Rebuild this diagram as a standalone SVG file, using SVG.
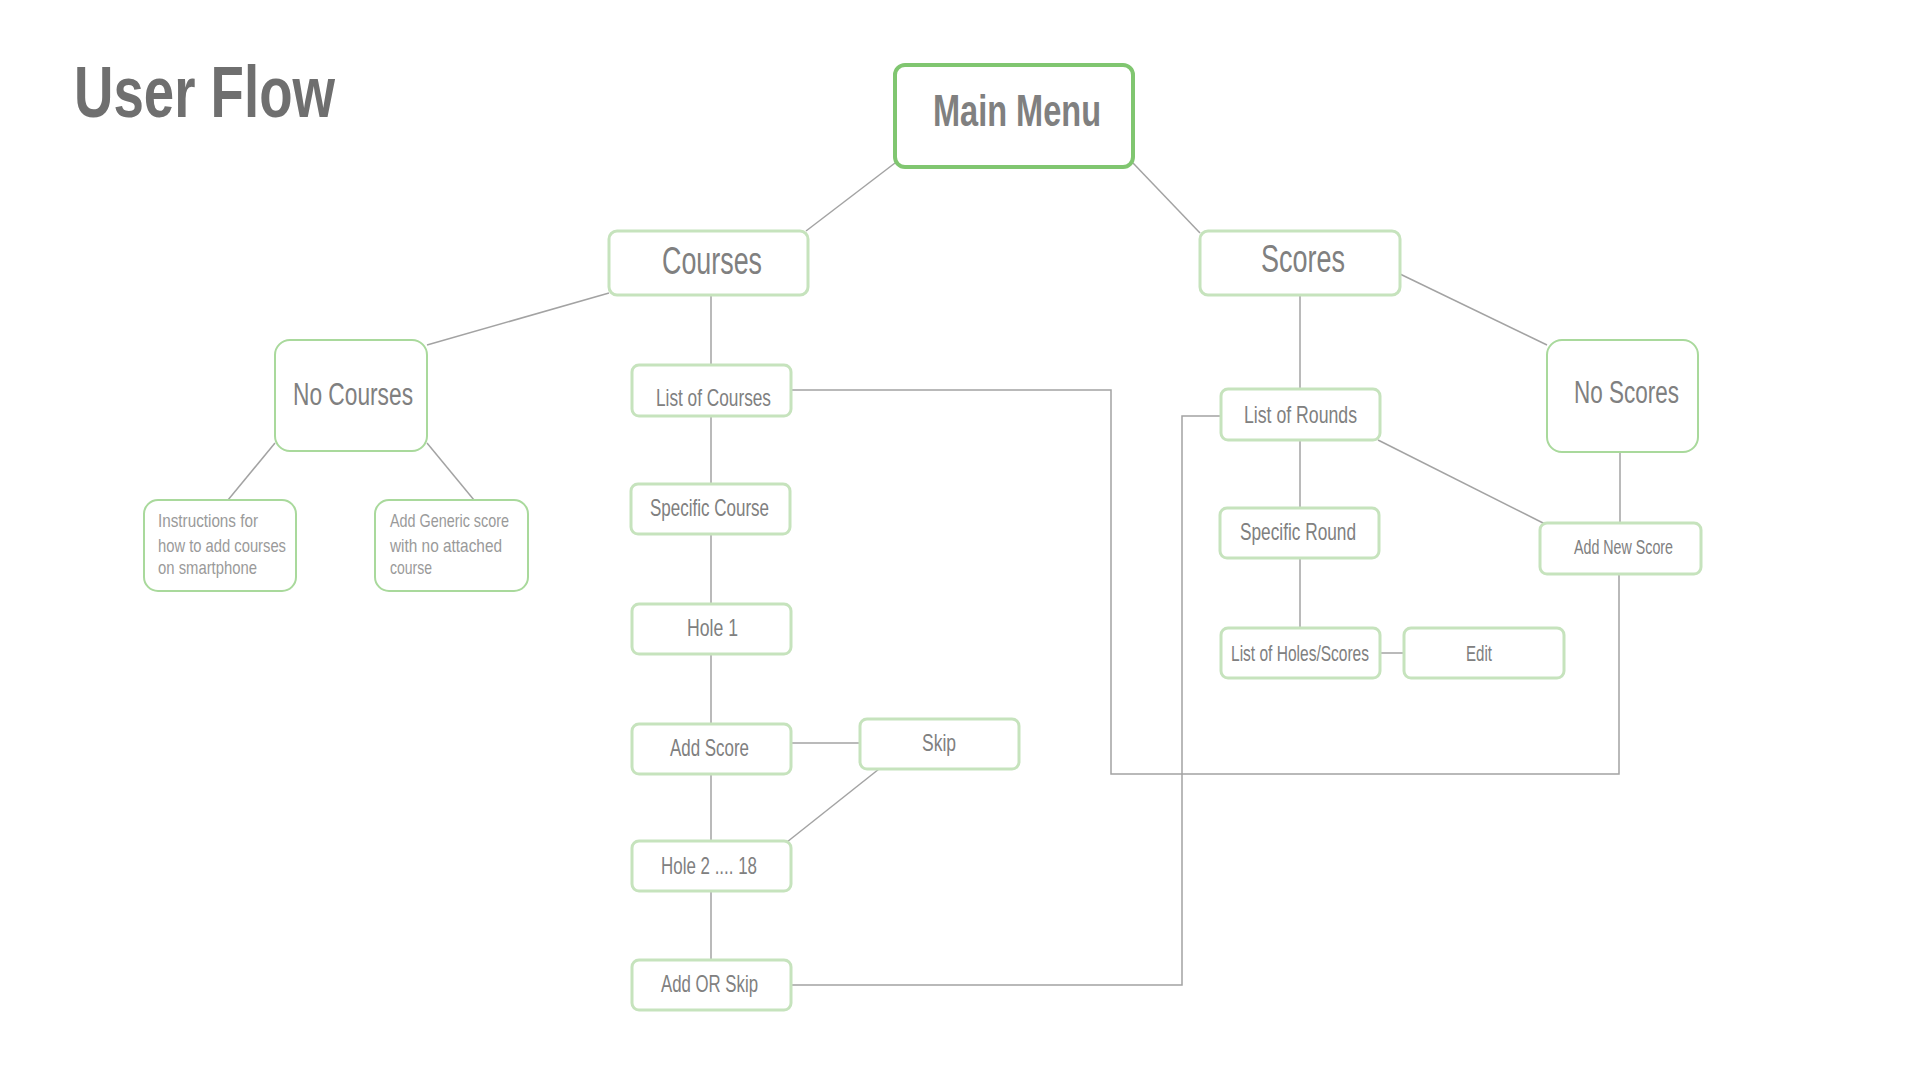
<svg xmlns="http://www.w3.org/2000/svg" width="1920" height="1080" viewBox="0 0 1920 1080">
  <style>
    text { font-family: "Liberation Sans", Arial, sans-serif; fill: #808080; }
    .title { font-size: 73px; font-weight: bold; fill: #6f6f6f; }
    .box { fill: #ffffff; stroke: #c6e3bd; stroke-width: 3; }
    .box2 { fill: #ffffff; stroke: #a9d99c; stroke-width: 2; }
    .main { fill: #ffffff; stroke: #80c670; stroke-width: 4; }
    .conn line, .conn polyline { stroke: #a3a3a3; stroke-width: 1.5; fill: none; }
    .t44 { font-size: 45px; font-weight: bold; }
    .t38 { font-size: 39px; }
    .t30 { font-size: 31px; }
    .t23 { font-size: 24px; }
    .t21 { font-size: 21.5px; }
    .t19 { font-size: 20px; }
    .small { font-size: 18.5px; fill: #9a9a9a; }
  </style>

  <text class="title" x="74" y="117" textLength="261" lengthAdjust="spacingAndGlyphs">User Flow</text>

  <g class="conn" id="connectors">
    <line x1="895" y1="163" x2="806" y2="231"/>
    <line x1="1133" y1="163" x2="1200" y2="233"/>
    <line x1="609" y1="293" x2="427" y2="345"/>
    <line x1="711" y1="295" x2="711" y2="365"/>
    <line x1="1300" y1="295" x2="1300" y2="389"/>
    <line x1="1400" y1="274" x2="1547" y2="345"/>
    <line x1="275" y1="443" x2="228" y2="500"/>
    <line x1="427" y1="443" x2="474" y2="500"/>
    <line x1="711" y1="416" x2="711" y2="484"/>
    <line x1="711" y1="534" x2="711" y2="604"/>
    <line x1="711" y1="654" x2="711" y2="724"/>
    <line x1="711" y1="774" x2="711" y2="841"/>
    <line x1="711" y1="891" x2="711" y2="960"/>
    <line x1="791" y1="743" x2="860" y2="743"/>
    <line x1="879" y1="769" x2="787" y2="842"/>
    <polyline points="791,390 1111,390 1111,774 1619,774 1619,574"/>
    <polyline points="1221,416 1182,416 1182,985 791,985"/>
    <line x1="1378" y1="440" x2="1545" y2="524"/>
    <line x1="1620" y1="452" x2="1620" y2="523"/>
    <line x1="1300" y1="440" x2="1300" y2="508"/>
    <line x1="1300" y1="558" x2="1300" y2="628"/>
    <line x1="1380" y1="653" x2="1404" y2="653"/>
  </g>

  <g id="main-menu">
    <rect class="main" x="895" y="65" width="238" height="102" rx="10"/>
    <text class="t44" x="933" y="126" textLength="168" lengthAdjust="spacingAndGlyphs">Main Menu</text>
  </g>
  <g id="courses">
    <rect class="box" x="609" y="231" width="199" height="64" rx="8"/>
    <text class="t38" x="662" y="274" textLength="100" lengthAdjust="spacingAndGlyphs">Courses</text>
  </g>
  <g id="scores">
    <rect class="box" x="1200" y="231" width="200" height="64" rx="8"/>
    <text class="t38" x="1261" y="272" textLength="84" lengthAdjust="spacingAndGlyphs">Scores</text>
  </g>
  <g id="no-courses">
    <rect class="box2" x="275" y="340" width="152" height="111" rx="15"/>
    <text class="t30" x="293" y="405" textLength="120" lengthAdjust="spacingAndGlyphs">No Courses</text>
  </g>
  <g id="no-scores">
    <rect class="box2" x="1547" y="340" width="151" height="112" rx="15"/>
    <text class="t30" x="1574" y="403" textLength="105" lengthAdjust="spacingAndGlyphs">No Scores</text>
  </g>
  <g id="instructions">
    <rect class="box2" x="144" y="500" width="152" height="91" rx="14"/>
    <text class="small" x="158" y="527" textLength="100" lengthAdjust="spacingAndGlyphs">Instructions for</text>
    <text class="small" x="158" y="552" textLength="128" lengthAdjust="spacingAndGlyphs">how to add courses</text>
    <text class="small" x="158" y="574" textLength="99" lengthAdjust="spacingAndGlyphs">on smartphone</text>
  </g>
  <g id="add-generic">
    <rect class="box2" x="375" y="500" width="153" height="91" rx="14"/>
    <text class="small" x="390" y="527" textLength="119" lengthAdjust="spacingAndGlyphs">Add Generic score</text>
    <text class="small" x="390" y="552" textLength="112" lengthAdjust="spacingAndGlyphs">with no attached</text>
    <text class="small" x="390" y="574" textLength="42" lengthAdjust="spacingAndGlyphs">course</text>
  </g>
  <g id="list-of-courses">
    <rect class="box" x="632" y="365" width="159" height="51" rx="7"/>
    <text class="t23" x="656" y="406" textLength="115" lengthAdjust="spacingAndGlyphs">List of Courses</text>
  </g>
  <g id="specific-course">
    <rect class="box" x="631" y="484" width="159" height="50" rx="7"/>
    <text class="t23" x="650" y="516" textLength="119" lengthAdjust="spacingAndGlyphs">Specific Course</text>
  </g>
  <g id="hole-1">
    <rect class="box" x="632" y="604" width="159" height="50" rx="7"/>
    <text class="t23" x="687" y="636" textLength="51" lengthAdjust="spacingAndGlyphs">Hole 1</text>
  </g>
  <g id="add-score">
    <rect class="box" x="632" y="724" width="159" height="50" rx="7"/>
    <text class="t23" x="670" y="756" textLength="79" lengthAdjust="spacingAndGlyphs">Add Score</text>
  </g>
  <g id="skip">
    <rect class="box" x="860" y="719" width="159" height="50" rx="7"/>
    <text class="t23" x="922" y="751" textLength="34" lengthAdjust="spacingAndGlyphs">Skip</text>
  </g>
  <g id="hole-2-18">
    <rect class="box" x="632" y="841" width="159" height="50" rx="7"/>
    <text class="t23" x="661" y="874" textLength="96" lengthAdjust="spacingAndGlyphs">Hole 2 .... 18</text>
  </g>
  <g id="add-or-skip">
    <rect class="box" x="632" y="960" width="159" height="50" rx="7"/>
    <text class="t23" x="661" y="992" textLength="97" lengthAdjust="spacingAndGlyphs">Add OR Skip</text>
  </g>
  <g id="list-of-rounds">
    <rect class="box" x="1221" y="389" width="159" height="51" rx="7"/>
    <text class="t23" x="1244" y="423" textLength="113" lengthAdjust="spacingAndGlyphs">List of Rounds</text>
  </g>
  <g id="specific-round">
    <rect class="box" x="1220" y="508" width="159" height="50" rx="7"/>
    <text class="t23" x="1240" y="540" textLength="116" lengthAdjust="spacingAndGlyphs">Specific Round</text>
  </g>
  <g id="list-of-holes-scores">
    <rect class="box" x="1221" y="628" width="159" height="50" rx="7"/>
    <text class="t21" x="1231" y="661" textLength="138" lengthAdjust="spacingAndGlyphs">List of Holes/Scores</text>
  </g>
  <g id="edit">
    <rect class="box" x="1404" y="628" width="160" height="50" rx="7"/>
    <text class="t21" x="1466" y="661" textLength="26" lengthAdjust="spacingAndGlyphs">Edit</text>
  </g>
  <g id="add-new-score">
    <rect class="box" x="1540" y="523" width="161" height="51" rx="7"/>
    <text class="t19" x="1574" y="554" textLength="99" lengthAdjust="spacingAndGlyphs">Add New Score</text>
  </g>
</svg>
